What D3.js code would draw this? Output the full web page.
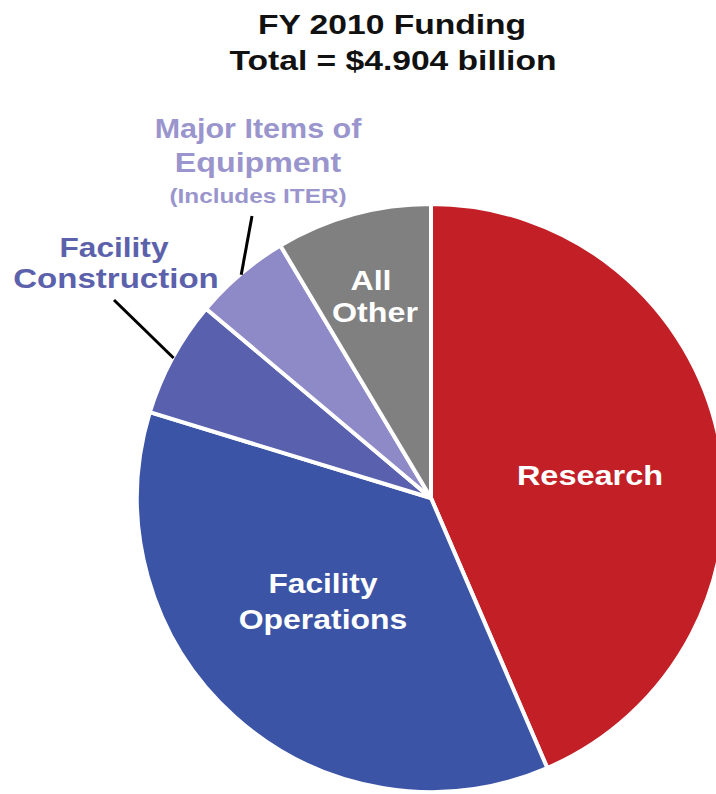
<!DOCTYPE html>
<html>
<head>
<meta charset="utf-8">
<script src="https://cdn.jsdelivr.net/npm/d3@7/dist/d3.min.js"></script>
<style>
html,body{margin:0;padding:0;background:#fff;}
svg{display:block;font-family:"Liberation Sans",Arial,sans-serif;font-weight:bold;}
</style>
</head>
<body>
<svg id="chart" width="716" height="794"></svg>
<script>
// Data (billions of dollars, FY 2010)
const categories = ["Research", "Facility Operations", "Facility Construction", "Major Items of Equipment", "All Other"];
const values = [2.135, 1.775, 0.315, 0.26, 0.42];
const colors = ["#C21F27", "#3B54A6", "#5961AE", "#8E89C7", "#808080"];
const titleLines = ["FY 2010 Funding", "Total = $4.904 billion"];

const svg = d3.select("#chart");
const cx = 431, cy = 498, R = 294;

const pie = d3.pie().sort(null).value(d => d.v).startAngle(0).endAngle(2 * Math.PI);
const data = categories.map((c, i) => ({c, v: values[i], color: colors[i]}));
const arcs = pie(data);
const arc = d3.arc().innerRadius(0).outerRadius(R);

const g = svg.append("g").attr("transform", `translate(${cx},${cy})`);
g.selectAll("path").data(arcs).enter().append("path")
  .attr("d", arc)
  .attr("fill", d => d.data.color)
  .attr("stroke", "#fff")
  .attr("stroke-width", 4)
  .attr("stroke-linejoin", "round");

// text helper: horizontally stretched, centered
function txt(s, x, y, size, fill, sx) {
  svg.append("text")
    .attr("transform", `translate(${x},${y}) scale(${sx},1)`)
    .attr("text-anchor", "middle")
    .attr("font-size", size)
    .attr("fill", fill)
    .text(s);
}

// Title
txt(titleLines[0], 392, 34, 28, "#111", 1.2);
txt(titleLines[1], 393, 70, 28, "#111", 1.2);

// Inside labels
txt("Research", 590, 485, 28, "#fff", 1.16);
txt("Facility", 323, 593, 28, "#fff", 1.13);
txt("Operations", 323, 629, 28, "#fff", 1.14);
txt("All", 371, 290, 28, "#fff", 1.15);
txt("Other", 375, 322, 28, "#fff", 1.15);

// Outside labels
txt("Facility", 114, 257, 28, "#5C61AC", 1.13);
txt("Construction", 116, 288, 28, "#5C61AC", 1.18);
txt("Major Items of", 258, 138, 28, "#9A95CD", 1.09);
txt("Equipment", 258, 172, 28, "#9A95CD", 1.15);
txt("(Includes ITER)", 258, 203, 21, "#9A95CD", 1.16);

// Leader lines: from label to slice mid-angle on the rim
function edgePoint(a, r) { return [cx + r * Math.sin(a), cy - r * Math.cos(a)]; }
const consMid = (arcs[2].startAngle + arcs[2].endAngle) / 2;
const mieMid = (arcs[3].startAngle + arcs[3].endAngle) / 2;
const p1 = edgePoint(consMid, R - 1);
svg.append("line").attr("x1", 114).attr("y1", 300).attr("x2", p1[0]).attr("y2", p1[1])
  .attr("stroke", "#000").attr("stroke-width", 3);
const p2 = edgePoint(mieMid, R - 1);
svg.append("line").attr("x1", 252).attr("y1", 216).attr("x2", p2[0]).attr("y2", p2[1])
  .attr("stroke", "#000").attr("stroke-width", 3);
</script>
</body>
</html>
